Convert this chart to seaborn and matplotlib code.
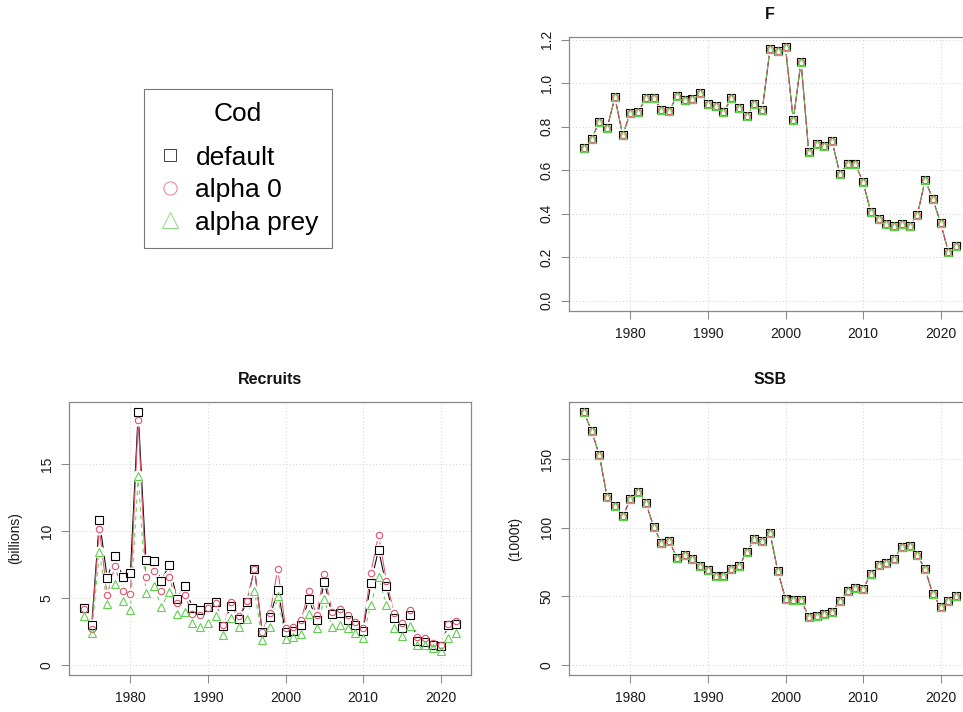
import matplotlib
matplotlib.use("Agg")
import matplotlib.pyplot as plt
import seaborn as sns
import pandas as pd
from matplotlib.lines import Line2D

# ---------------- data ----------------
years = list(range(1974, 2023))
models = ["default", "alpha 0", "alpha prey"]

F_default = [0.703, 0.746, 0.823, 0.795, 0.935, 0.762, 0.865, 0.869, 0.931, 0.934,
             0.877, 0.872, 0.942, 0.923, 0.926, 0.954, 0.903, 0.895, 0.866, 0.931,
             0.888, 0.851, 0.903, 0.877, 1.157, 1.146, 1.166, 0.831, 1.100, 0.682,
             0.723, 0.712, 0.734, 0.585, 0.628, 0.628, 0.546, 0.408, 0.377, 0.354,
             0.342, 0.354, 0.343, 0.395, 0.554, 0.469, 0.357, 0.226, 0.251]
F_alpha0 = list(F_default)
F_alphaprey = list(F_default)

rec_default = [4.26, 2.95, 10.82, 6.49, 8.14, 6.58, 6.86, 18.86, 7.82, 7.77,
               6.29, 7.43, 4.95, 5.87, 4.26, 4.06, 4.35, 4.68, 2.90, 4.43,
               3.44, 4.68, 7.18, 2.45, 3.56, 5.62, 2.45, 2.52, 2.95, 4.93,
               3.32, 6.19, 3.76, 3.85, 3.32, 2.95, 2.52, 6.11, 8.59, 5.87,
               3.51, 2.77, 3.69, 1.78, 1.71, 1.49, 1.41, 2.95, 3.02]
rec_alpha0 = [4.20, 2.70, 10.15, 5.20, 7.35, 5.54, 5.32, 18.24, 6.56, 6.98,
              5.54, 6.56, 4.63, 5.25, 3.76, 3.69, 4.24, 4.63, 2.97, 4.68,
              3.64, 4.75, 7.18, 2.48, 3.89, 7.15, 2.77, 2.85, 3.32, 5.50,
              3.69, 6.81, 3.97, 4.15, 3.69, 3.19, 2.77, 6.86, 9.70, 6.29,
              3.89, 3.14, 4.13, 2.10, 1.98, 1.61, 1.49, 3.02, 3.27]
rec_alphaprey = [3.64, 2.40, 8.40, 4.58, 6.04, 4.75, 4.13, 14.08, 5.37, 5.92,
                 4.33, 5.45, 3.76, 3.94, 3.14, 2.82, 3.09, 3.64, 2.20, 3.51,
                 2.82, 3.44, 5.54, 1.83, 2.82, 5.12, 1.96, 2.08, 2.33, 3.81,
                 2.72, 4.93, 2.82, 2.97, 2.72, 2.40, 2.03, 4.50, 6.56, 4.50,
                 2.72, 2.15, 2.90, 1.49, 1.49, 1.24, 1.04, 2.03, 2.35]

ssb_default = [184.4, 170.6, 152.9, 122.2, 115.7, 108.4, 120.7, 126.1, 117.8, 100.9,
               88.8, 90.2, 78.2, 80.1, 77.4, 71.9, 69.0, 65.1, 64.6, 69.7,
               71.9, 82.5, 91.7, 90.2, 96.3, 68.5, 48.2, 47.0, 47.5, 34.9,
               35.9, 37.1, 38.8, 46.3, 54.1, 56.0, 55.3, 66.4, 73.0, 74.2,
               77.3, 86.3, 86.8, 79.8, 69.9, 51.5, 42.4, 46.3, 50.5]
ssb_alpha0 = list(ssb_default)
ssb_alphaprey = list(ssb_default)

x_ticks = [1980, 1990, 2000, 2010, 2020]
F_ticks = [0.0, 0.2, 0.4, 0.6, 0.8, 1.0, 1.2]
F_labels = ["0.0", "0.2", "0.4", "0.6", "0.8", "1.0", "1.2"]
rec_ticks = [0, 5, 10, 15]
ssb_ticks = [0, 50, 100, 150]

# ---------------- style ----------------
colors = {"default": "#000000", "alpha 0": "#DF536B", "alpha prey": "#61D04F"}
markers = {"default": "s", "alpha 0": "o", "alpha prey": "^"}
msizes = {"default": 5.2, "alpha 0": 4.6, "alpha prey": 6.0}
lstyles = {"default": "-", "alpha 0": "-", "alpha prey": (0, (4, 4))}

sns.set_theme(style="white")
plt.rcParams["font.family"] = ["Liberation Sans", "DejaVu Sans"]

W, H = 963, 712
fig = plt.figure(figsize=(W / 100, H / 100), dpi=100)


def add_ax(left, top, width, height):
    return fig.add_axes([left / W, 1 - (top + height) / H, width / W, height / H])


def panel(ax, series, title, ylabel, yticks, ylabels):
    df = pd.concat([pd.DataFrame({"year": years, "value": series[m], "model": m})
                    for m in models], ignore_index=True)
    for m in models:
        sub = df[df["model"] == m]
        sns.lineplot(data=sub, x="year", y="value", ax=ax, color=colors[m],
                     linestyle=lstyles[m], lw=0.75, zorder=2, legend=False,
                     errorbar=None)
    for m in models:
        sub = df[df["model"] == m]
        sns.lineplot(data=sub, x="year", y="value", ax=ax, color="white",
                     linestyle="", marker="o", ms=8.0, mfc="white", mec="white",
                     zorder=3, legend=False, errorbar=None)
    for m in models:
        sub = df[df["model"] == m]
        sns.lineplot(data=sub, x="year", y="value", ax=ax, color=colors[m],
                     linestyle="", marker=markers[m], ms=msizes[m], mfc="none",
                     mec=colors[m], mew=0.8, zorder=4, legend=False, errorbar=None)

    vmax = max(max(series[m]) for m in models)
    ax.set_ylim(-0.04 * vmax, 1.04 * vmax)
    ax.set_xlim(1974 - 0.04 * 48, 2022 + 0.04 * 48)
    ax.set_xticks(x_ticks, [str(t) for t in x_ticks])
    ax.set_yticks(yticks, ylabels, rotation=90, va="center")
    ax.grid(True, color="#d9d9d9", linestyle=(0, (1, 2)), lw=0.8)
    ax.set_axisbelow(True)
    for sp in ax.spines.values():
        sp.set_color("#888888")
        sp.set_linewidth(0.9)
        sp.set_visible(True)
    ax.tick_params(axis="both", which="both", bottom=True, left=True,
                   length=5.5, width=0.75, color="#888888", labelsize=10,
                   labelcolor="#1a1a1a", direction="out")
    ax.tick_params(axis="x", pad=6)
    ax.tick_params(axis="y", pad=5.5)
    ax.set_xlabel("")
    ax.set_ylabel(ylabel, fontsize=10, color="#1a1a1a")
    ax.yaxis.set_label_coords(-0.117, 0.5)
    ax.set_title(title, fontweight="bold", fontsize=11.5, pad=13, color="#111111")


axF = add_ax(569, 37, 402, 274)
axR = add_ax(69, 402, 402, 273)
axS = add_ax(569, 402, 402, 273)

panel(axF, {"default": F_default, "alpha 0": F_alpha0, "alpha prey": F_alphaprey},
      "F", "", F_ticks, F_labels)
panel(axR, {"default": rec_default, "alpha 0": rec_alpha0, "alpha prey": rec_alphaprey},
      "Recruits", "(billions)", rec_ticks, [str(t) for t in rec_ticks])
panel(axS, {"default": ssb_default, "alpha 0": ssb_alpha0, "alpha prey": ssb_alphaprey},
      "SSB", "(1000t)", ssb_ticks, [str(t) for t in ssb_ticks])

handles = [Line2D([], [], linestyle="", marker=markers[m], ms={"s": 9, "o": 9.5, "^": 12}[markers[m]],
                  mfc="none", mec=colors[m], mew=0.7, alpha=0.75) for m in models]
leg = fig.legend(handles, models, title="Cod", loc="upper left",
                 bbox_to_anchor=(144 / W, 1 - 89 / H), borderaxespad=0,
                 fontsize=19, title_fontsize=19, frameon=True, fancybox=False,
                 edgecolor="#555555", borderpad=0.5, handlelength=1.0,
                 handletextpad=0.45, labelspacing=0.32, labelcolor="black")
leg.get_title().set_color("black")
leg._legend_box.sep = 14
leg.get_frame().set_linewidth(0.8)
leg.get_frame().set_facecolor("white")

fig.savefig("out.png", dpi=100)
